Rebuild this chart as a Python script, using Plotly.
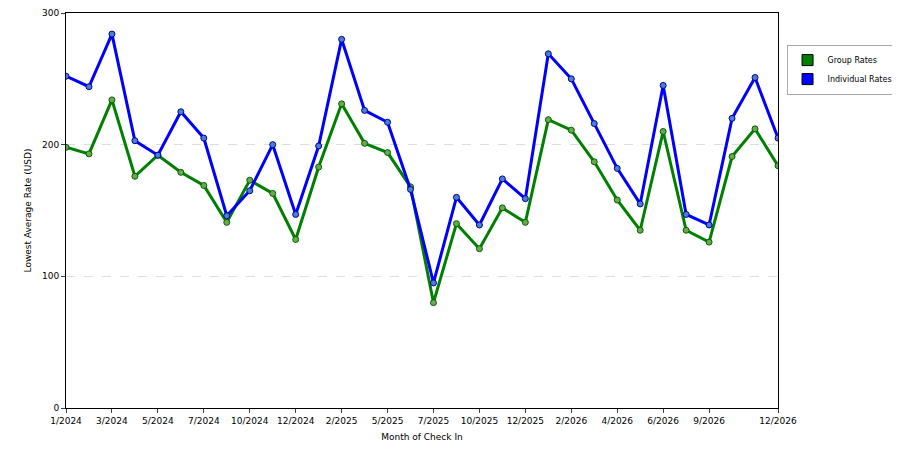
import plotly.graph_objects as go

months = ["1/2024","2/2024","3/2024","4/2024","5/2024","6/2024","7/2024","9/2024","10/2024","11/2024","12/2024","1/2025","2/2025","4/2025","5/2025","6/2025","7/2025","9/2025","10/2025","11/2025","12/2025","1/2026","2/2026","3/2026","4/2026","5/2026","6/2026","8/2026","9/2026","10/2026","11/2026","12/2026"]
individual = [252,244,284,203,192,225,205,146,165,200,147,199,280,226,217,166,95,160,139,174,159,269,250,216,182,155,245,147,139,220,251,205]
group = [198,193,234,176,192,179,169,141,173,163,128,183,231,201,194,168,80,140,121,152,141,219,211,187,158,135,210,135,126,191,212,184]
tick_labels = ["1/2024","3/2024","5/2024","7/2024","10/2024","12/2024","2/2025","5/2025","7/2025","10/2025","12/2025","2/2026","4/2026","6/2026","9/2026","12/2026"]

x = list(range(len(months)))
tickvals = [months.index(t) for t in tick_labels]

fig = go.Figure()
fig.add_trace(go.Scatter(x=x, y=group, name="Group Rates", mode="lines+markers", showlegend=False,
    line=dict(color="#008000", width=3), marker=dict(size=6, color="#6aa84f", line=dict(color="#006000", width=1))))
fig.add_trace(go.Scatter(x=x, y=individual, name="Individual Rates", mode="lines+markers", showlegend=False,
    line=dict(color="#0000ff", width=3), marker=dict(size=6, color="#4a7fd0", line=dict(color="#0000a0", width=1))))
fig.add_trace(go.Scatter(x=[None], y=[None], name="Group Rates", mode="markers",
    marker=dict(symbol="square", size=11, color="#008000", line=dict(color="#000", width=1))))
fig.add_trace(go.Scatter(x=[None], y=[None], name="Individual Rates", mode="markers",
    marker=dict(symbol="square", size=11, color="#0000ff", line=dict(color="#000", width=1))))

fig.update_layout(
    width=900, height=450, paper_bgcolor="white", plot_bgcolor="white",
    margin=dict(l=58, r=130, t=5, b=50),
    font=dict(family="DejaVu Sans", size=9, color="#000"),
    legend=dict(x=1.012, y=0.92, xanchor="left", yanchor="top", bordercolor="#aaa", borderwidth=1,
                font=dict(size=8), tracegroupgap=2),
    xaxis=dict(range=[0, len(months)-1], tickvals=tickvals, ticktext=tick_labels, showgrid=False,
               showline=True, linecolor="#000", mirror=True, ticks="outside", ticklen=4, automargin=False,
               title=dict(text="Month of Check In", font=dict(size=9), standoff=8), zeroline=False),
    yaxis=dict(range=[0, 300], dtick=100, showgrid=True, gridcolor="#ddd", griddash="dash",
               showline=True, linecolor="#000", mirror=True, ticks="outside", ticklen=4, automargin=False,
               title=dict(text="Lowest Average Rate (USD)", font=dict(size=9), standoff=8), zeroline=False),
)
fig.write_html("out.html")
